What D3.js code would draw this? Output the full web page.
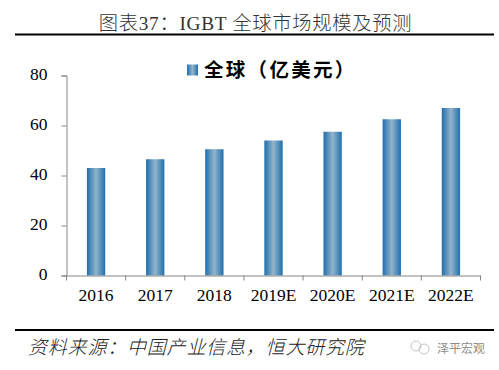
<!DOCTYPE html>
<html>
<head>
<meta charset="utf-8">
<script src="https://cdn.jsdelivr.net/npm/d3@7"></script>
<style>
html, body { margin: 0; padding: 0; background: #fff; }
svg { display: block; }
</style>
</head>
<body>
<div id="chart"></div>
<script>
const categories = ["2016", "2017", "2018", "2019E", "2020E", "2021E", "2022E"];
const values = [43, 46.5, 50.5, 54, 57.5, 62.5, 67];
const yTicks = [0, 20, 40, 60, 80];
const seriesName = "全球（亿美元）";
const titleText = "图表37：IGBT 全球市场规模及预测";
const sourceText = "资料来源：中国产业信息，恒大研究院";
const watermarkText = "泽平宏观";

const width = 499;
const height = 370;
const serif = '"Liberation Serif", serif';
const cjk = '"Liberation Serif", "Noto Sans CJK SC", sans-serif';

const svg = d3.select("#chart").append("svg")
    .attr("width", width)
    .attr("height", height);

// bar fill, dark at the edges and pale in the middle
const grad = svg.append("defs").append("linearGradient")
    .attr("id", "barFill")
    .attr("x1", "0%").attr("x2", "100%")
    .attr("y1", "0%").attr("y2", "0%");
grad.append("stop").attr("offset", "0%").attr("stop-color", "#1f6fae");
grad.append("stop").attr("offset", "50%").attr("stop-color", "#93b4cb");
grad.append("stop").attr("offset", "100%").attr("stop-color", "#1f6fae");

const xScale = d3.scaleBand()
    .domain(categories)
    .range([66.5, 480.5])
    .paddingInner(0.69)
    .paddingOuter(0.345);

const yScale = d3.scaleLinear()
    .domain([0, 80])
    .range([275.5, 75.5]);

// title and rules
svg.append("text")
    .attr("x", 255.5)
    .attr("y", 30)
    .attr("text-anchor", "middle")
    .style("font-family", cjk)
    .style("font-size", "19.3px")
    .style("font-weight", 300)
    .style("letter-spacing", "0.7px")
    .attr("fill", "#333")
    .text(titleText);

svg.append("line")
    .attr("x1", 15).attr("x2", 494)
    .attr("y1", 34.5).attr("y2", 34.5)
    .attr("stroke", "#000").attr("stroke-width", 2);

svg.append("line")
    .attr("x1", 15).attr("x2", 494)
    .attr("y1", 330).attr("y2", 330)
    .attr("stroke", "#000").attr("stroke-width", 2);

// bars
svg.selectAll("rect.bar")
    .data(values)
    .enter()
    .append("rect")
    .attr("class", "bar")
    .attr("x", (d, i) => xScale(categories[i]))
    .attr("y", d => yScale(d))
    .attr("width", xScale.bandwidth())
    .attr("height", d => yScale(0) - yScale(d))
    .attr("fill", "url(#barFill)");

// axes
const yAxis = d3.axisLeft(yScale)
    .tickValues(yTicks)
    .tickSize(5)
    .tickPadding(14);

const xAxis = d3.axisBottom(xScale).tickSize(0).tickPadding(13);

const gy = svg.append("g")
    .attr("transform", "translate(66.5, 0)")
    .call(yAxis);

const gx = svg.append("g")
    .attr("transform", "translate(0, 275.5)")
    .call(xAxis);

// ticks on the x axis sit between the categories
const step = xScale.step();
gx.selectAll("line.edge")
    .data(d3.range(categories.length + 1))
    .enter()
    .append("line")
    .attr("class", "edge")
    .attr("x1", i => 66.5 + i * step)
    .attr("x2", i => 66.5 + i * step)
    .attr("y1", 0)
    .attr("y2", 5)
    .attr("stroke", "#868686");

svg.selectAll(".domain").attr("stroke", "#868686");
gy.selectAll(".tick line").attr("stroke", "#868686");
svg.selectAll(".tick text")
    .style("font-family", serif)
    .style("font-size", "17.5px")
    .attr("fill", "#000");
gy.selectAll(".tick text").attr("dy", "0.24em");

// legend
const legend = svg.append("g");
legend.append("rect")
    .attr("x", 187).attr("y", 64.5)
    .attr("width", 11).attr("height", 11)
    .attr("fill", "url(#barFill)");
legend.append("text")
    .attr("x", 204)
    .attr("y", 76.5)
    .style("font-family", cjk)
    .style("font-size", "19.5px")
    .style("font-weight", 700)
    .style("letter-spacing", "2.3px")
    .attr("fill", "#000")
    .text(seriesName);

// source line
svg.append("text")
    .attr("x", 28)
    .attr("y", 353.5)
    .style("font-family", cjk)
    .style("font-size", "19px")
    .style("font-style", "italic")
    .style("font-weight", 300)
    .style("letter-spacing", "0.8px")
    .attr("fill", "#222")
    .text(sourceText);

// watermark
const mark = svg.append("g").attr("fill", "none").attr("stroke", "#c4c4c4");
mark.append("circle").attr("cx", 416).attr("cy", 346).attr("r", 5);
mark.append("circle").attr("cx", 424).attr("cy", 349).attr("r", 5);
svg.append("text")
    .attr("x", 437)
    .attr("y", 353)
    .style("font-family", cjk)
    .style("font-size", "12px")
    .attr("fill", "#8c8c8c")
    .text(watermarkText);
</script>
</body>
</html>
